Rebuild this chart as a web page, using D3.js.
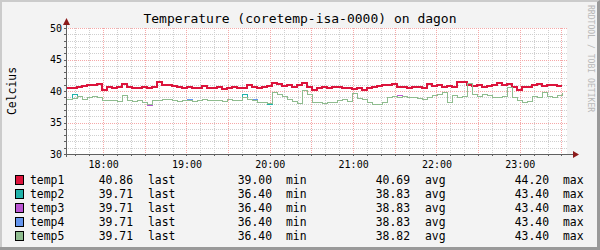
<!DOCTYPE html>
<html><head><meta charset="utf-8">
<script src="https://cdn.jsdelivr.net/npm/d3@7"></script>
<style>
html,body{margin:0;padding:0;background:#fff;}
svg{display:block;font-family:"DejaVu Sans Mono",monospace;}
</style></head>
<body>
<script>
const title = "Temperature (coretemp-isa-0000) on dagon";
const yLabel = "Celcius";
const watermark = "RRDTOOL / TOBI OETIKER";
const seriesNames = ["temp1","temp2","temp3","temp4","temp5"];
const seriesColors = ["#dc143c","#20b2aa","#ba55d3","#6495ed","#8fbc8f"];
const lastVals = ["40.86","39.71","39.71","39.71","39.71"];
const minVals  = ["39.00","36.40","36.40","36.40","36.40"];
const avgVals  = ["40.69","38.83","38.83","38.83","38.82"];
const maxVals  = ["44.20","43.40","43.40","43.40","43.40"];
const yTicks = [30,35,40,45,50];
const xTickLabels = ["18:00","19:00","20:00","21:00","22:00","23:00"];
const stepMinutes = 3.6;

const temp1 = [40.4,40.5,40.6,40.8,41.0,40.9,41.1,40.2,40.6,40.5,40.6,41.1,40.7,40.5,40.5,40.6,40.5,40.7,41.4,41.0,
40.9,40.8,40.6,40.5,40.6,40.4,40.5,40.8,40.4,40.5,40.6,40.3,40.5,40.6,40.4,40.5,41.0,40.6,40.4,40.7,
40.8,41.2,41.1,40.8,40.9,40.6,40.9,41.2,40.6,40.2,40.5,40.7,40.5,40.6,40.7,40.5,40.4,40.3,40.5,40.1,
40.4,40.6,40.8,41.0,40.9,41.1,40.7,40.6,40.5,40.7,40.6,40.5,41.1,40.8,40.9,40.7,40.8,40.6,41.5,41.4,
40.9,40.8,40.9,40.7,40.8,41.0,41.3,41.0,41.1,40.6,40.2,40.7,40.6,40.9,41.1,40.8,41.0,40.9,40.8,40.86];
const temp2 = [38.8,39.5,39.2,38.8,39.1,39.2,39.0,38.6,38.5,38.6,38.4,39.4,38.5,38.4,38.5,38.3,37.9,38.5,38.6,38.8,
38.7,38.6,38.4,38.5,38.5,38.4,38.6,38.8,38.5,38.6,38.5,38.4,38.7,38.5,38.6,39.5,38.7,38.5,38.3,38.2,
38.0,39.9,39.5,39.2,38.8,38.4,38.1,40.2,39.6,38.3,38.2,38.1,38.3,38.2,38.6,38.7,38.4,39.7,38.9,38.8,
38.3,38.0,37.9,38.2,39.0,39.2,39.1,39.2,39.1,39.0,38.9,38.8,39.1,39.3,39.5,39.8,38.2,39.4,39.0,39.2,
41.2,39.6,39.2,39.5,39.3,39.1,39.0,39.2,40.6,39.1,38.5,38.2,38.4,39.2,39.0,39.8,39.2,39.1,39.3,39.71];
const temp3 = [38.8,38.9,39.2,38.8,39.1,39.2,39.0,38.6,38.5,38.6,38.4,39.4,38.5,38.4,38.5,38.3,37.8,38.5,38.6,38.8,
38.7,38.6,38.4,38.5,38.5,38.4,38.6,38.8,38.5,38.6,38.5,38.4,38.7,38.5,38.6,39.0,38.7,38.5,38.3,38.2,
38.1,39.9,39.5,39.2,38.8,38.4,38.1,40.2,39.6,38.3,38.2,38.1,38.3,38.2,38.6,38.7,38.4,39.7,38.9,38.8,
38.3,38.0,37.9,38.2,39.0,39.2,39.3,39.2,39.1,39.0,38.9,38.8,39.1,39.3,39.5,39.8,38.2,39.4,39.0,39.2,
41.2,39.6,39.2,39.5,39.3,39.1,39.0,39.2,40.6,39.1,38.5,38.2,38.4,39.2,39.0,39.8,39.2,39.1,39.3,39.71];
const temp4 = [38.8,38.9,39.2,38.8,39.1,39.2,39.0,38.6,38.5,38.6,38.4,39.4,38.5,38.4,38.5,38.3,37.9,38.5,38.6,38.8,
38.7,38.6,38.4,38.5,38.7,38.4,38.6,38.8,38.5,38.6,38.5,38.4,38.7,38.5,38.6,39.0,38.7,38.8,38.3,38.2,
38.1,39.9,39.5,39.2,38.8,38.4,38.1,40.2,39.6,38.3,38.2,38.1,38.3,38.2,38.6,38.7,38.4,39.7,38.9,38.8,
38.3,38.0,37.9,38.2,39.0,39.2,39.1,39.2,39.1,39.0,38.9,38.8,39.1,39.3,39.5,39.8,38.2,39.4,39.0,39.2,
41.2,39.6,39.2,39.5,39.3,39.1,39.0,39.2,40.6,39.1,38.5,38.2,38.4,39.2,39.0,39.8,39.2,39.1,39.3,39.71];
const temp5 = [38.8,38.9,39.2,38.8,39.1,39.2,39.0,38.6,38.5,38.6,38.4,39.4,38.5,38.4,38.5,38.3,37.9,38.5,38.6,38.8,
38.7,38.6,38.4,38.5,38.5,38.4,38.6,38.8,38.5,38.6,38.5,38.4,38.7,38.5,38.6,39.0,38.7,38.5,38.3,38.2,
38.1,39.9,39.5,39.2,38.8,38.4,38.1,40.2,39.6,38.3,38.2,38.1,38.3,38.2,38.6,38.7,38.4,39.7,38.9,38.8,
38.3,38.0,37.9,38.2,39.0,39.2,39.1,39.2,39.1,39.0,38.9,38.8,39.1,39.3,39.5,39.8,38.2,39.4,39.0,39.2,
41.2,39.6,39.2,39.5,39.3,39.1,39.0,39.2,40.6,39.1,38.5,38.2,38.4,39.2,39.0,39.8,39.2,39.1,39.3,39.71];
const allSeries = [temp1,temp2,temp3,temp4,temp5];

const W = 600, H = 250;
const start = new Date(2010,0,1,17,34,0);
const end = new Date(2010,0,1,23,34,0);
const pl = 67, pr = 567, pt = 28, pb = 154;

const svg = d3.select("body").append("svg").attr("width",W).attr("height",H);
const defs = svg.append("defs");
function dotPattern(id, color, vertical){
  const p = defs.append("pattern").attr("id",id).attr("patternUnits","userSpaceOnUse")
    .attr("width",vertical?1:2).attr("height",vertical?2:1);
  p.append("rect").attr("x",0).attr("y",0).attr("width",1).attr("height",1).attr("fill",color);
}
const minC = "#cfcfcf", majC = "#f5a8a8";
dotPattern("minV",minC,true); dotPattern("minH",minC,false);
dotPattern("majV",majC,true); dotPattern("majH",majC,false);

svg.append("rect").attr("x",0).attr("y",0).attr("width",W).attr("height",H).attr("fill","#f3f3f3");
svg.append("path").attr("d",`M0,0H${W}V2H2V${H}H0Z`).attr("fill","#cbcbcb");
svg.append("path").attr("d",`M${W},0V${H}H0V${H-3}H${W-3}V2Z`).attr("fill","#999999");
svg.append("rect").attr("x",pl).attr("y",pt).attr("width",pr-pl).attr("height",pb-pt).attr("fill","#ffffff");

const x = d3.scaleTime().domain([start,end]).range([pl,pr]);
const y = d3.scaleLinear().domain([30,50]).range([pb,pt]);

// grid (dotted)
const minorX = d3.timeMinute.every(10).range(start,end);
const majorX = d3.timeMinute.every(30).range(start,end);
const g = svg.append("g").attr("shape-rendering","crispEdges");
const vline = (xx,pat)=>g.append("rect").attr("x",Math.round(xx)).attr("y",pt).attr("width",1).attr("height",pb-pt).attr("fill",`url(#${pat})`);
const hline = (yy,pat)=>g.append("rect").attr("x",pl).attr("y",Math.round(yy)).attr("width",pr-pl).attr("height",1).attr("fill",`url(#${pat})`);
minorX.filter(t=>t.getMinutes()%30!==0).forEach(t=>vline(x(t),"minV"));
d3.range(31,50).filter(v=>v%5!==0).forEach(v=>hline(y(v),"minH"));
majorX.forEach(t=>vline(x(t),"majV"));
yTicks.forEach(v=>hline(y(v),"majH"));

// series
const times = temp1.map((_,i)=>d3.timeSecond.offset(start, Math.round(i*stepMinutes*60)));
const line = d3.line().x((d,i)=>Math.round(x(times[i]))).y(d=>Math.round(y(d))).curve(d3.curveStepAfter);
const gs = svg.append("g").attr("shape-rendering","crispEdges");
allSeries.forEach((s,k)=>{
  gs.append("path").datum(s).attr("d",line).attr("fill","none")
    .attr("stroke",seriesColors[k]).attr("stroke-width",k===0?2:1);
});

// axes
const axC = "#606060";
const gAx = svg.append("g").attr("shape-rendering","crispEdges");
gAx.append("line").attr("x1",pl-0.5).attr("x2",pl-0.5).attr("y1",pb+3).attr("y2",pt-6).attr("stroke",axC);
gAx.append("line").attr("x1",pl-3).attr("x2",pr+8).attr("y1",pb+0.5).attr("y2",pb+0.5).attr("stroke",axC);
svg.append("path").attr("d",`M${pl-4},${pt-3}L${pl+3},${pt-3}L${pl-0.5},${pt-10}Z`).attr("fill","#8b1a1a");
svg.append("path").attr("d",`M${pr+6},${pb-3}L${pr+6},${pb+4}L${pr+12},${pb+0.5}Z`).attr("fill","#8b1a1a");
minorX.forEach(t=>{const xx=Math.round(x(t))+0.5;
  gAx.append("line").attr("x1",xx).attr("x2",xx).attr("y1",pb).attr("y2",pb+2).attr("stroke",axC);});
d3.range(30,51).forEach(v=>{const yy=Math.round(y(v))+0.5;
  gAx.append("line").attr("x1",pl-3).attr("x2",pl).attr("y1",yy).attr("y2",yy).attr("stroke",axC);});

const xAxis = d3.axisBottom(x).tickValues(xTickLabels.map(s=>{const [h,m]=s.split(":");return new Date(2010,0,1,+h,+m);}))
  .tickFormat((d,i)=>xTickLabels[i]).tickSize(0).tickPadding(0);
const gx = svg.append("g").attr("transform",`translate(0,${pb})`).call(xAxis);
gx.select(".domain").remove();
gx.selectAll("text").attr("font-family","DejaVu Sans Mono").attr("font-size","10px").attr("fill","#000").attr("dy","14px");

const yAxis = d3.axisLeft(y).tickValues(yTicks).tickSize(0).tickPadding(5);
const gy = svg.append("g").attr("transform",`translate(${pl},0)`).call(yAxis);
gy.select(".domain").remove();
gy.selectAll("text").attr("font-family","DejaVu Sans Mono").attr("font-size","10px").attr("fill","#000");

svg.append("text").attr("x",300).attr("y",23).attr("text-anchor","middle").attr("font-size","13px").attr("fill","#000").text(title);
svg.append("text").attr("transform","translate(16,91) rotate(-90)").attr("text-anchor","middle").attr("font-size","11.4px").attr("fill","#000").text(yLabel);
svg.append("text").attr("transform","translate(588,5) rotate(90)").attr("text-anchor","start").attr("font-size","8.1px").attr("fill","#b8b8b8").text(watermark);

const lg = svg.append("g").attr("font-size","11.4px").attr("fill","#000");
seriesNames.forEach((n,i)=>{
  const by = 184 + i*14;
  lg.append("rect").attr("x",15.5).attr("y",by-8.5).attr("width",8).attr("height",9).attr("fill",seriesColors[i]).attr("stroke","#000");
  lg.append("text").attr("x",30).attr("y",by).text(n);
  lg.append("text").attr("x",133).attr("y",by).attr("text-anchor","end").text(lastVals[i]);
  lg.append("text").attr("x",148).attr("y",by).text("last");
  lg.append("text").attr("x",272).attr("y",by).attr("text-anchor","end").text(minVals[i]);
  lg.append("text").attr("x",286).attr("y",by).text("min");
  lg.append("text").attr("x",410).attr("y",by).attr("text-anchor","end").text(avgVals[i]);
  lg.append("text").attr("x",425).attr("y",by).text("avg");
  lg.append("text").attr("x",549).attr("y",by).attr("text-anchor","end").text(maxVals[i]);
  lg.append("text").attr("x",563).attr("y",by).text("max");
});
</script>
</body></html>
